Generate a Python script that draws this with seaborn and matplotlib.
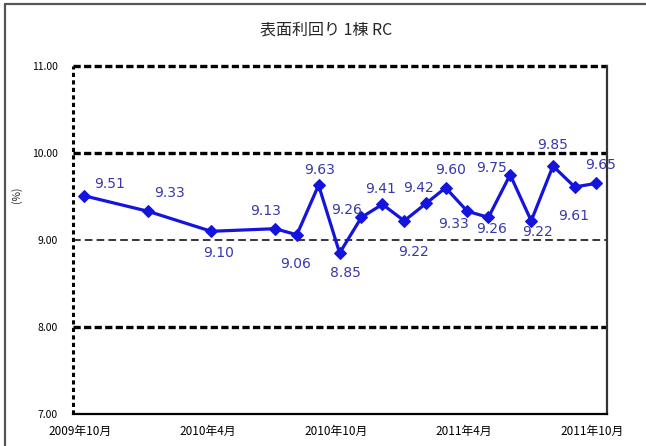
import pandas as pd
import matplotlib
matplotlib.use("Agg")
import matplotlib.pyplot as plt
import matplotlib.dates as mdates
import matplotlib.transforms as mtransforms
from matplotlib.lines import Line2D
import seaborn as sns

# --- data ---
months = ["2009-10", "2010-01", "2010-04", "2010-07", "2010-08", "2010-09",
          "2010-10", "2010-11", "2010-12", "2011-01", "2011-02", "2011-03",
          "2011-04", "2011-05", "2011-06", "2011-07", "2011-08", "2011-09",
          "2011-10"]
yields = [9.51, 9.33, 9.10, 9.13, 9.06, 9.63, 8.85, 9.26, 9.41, 9.22, 9.42,
          9.60, 9.33, 9.26, 9.75, 9.22, 9.85, 9.61, 9.65]
tick_months = ["2009-10-01", "2010-04-01", "2010-10-01", "2011-04-01", "2011-10-01"]
tick_labels = ["2009年10月", "2010年4月", "2010年10月", "2011年4月", "2011年10月"]
y_ticks = [7, 8, 9, 10, 11]
title = "表面利回り 1棟 RC"

# label offsets in pixels (dx, dy with dy downwards), placement only
label_offsets = [(26, -12), (21, -18), (7, 22), (-10, -18), (-1, 29), (1, -15),
                 (6, 20), (-15, -7), (-2, -15), (9, 31), (-7, -15), (5, -18),
                 (-14, 13), (3, 12), (-19, -7), (6, 11), (0, -21), (-1, 29),
                 (5, -18)]

df = pd.DataFrame({"date": pd.to_datetime([m + "-16" for m in months]),
                   "value": yields})

sns.set_theme(style="white")
plt.rcParams["font.family"] = ["Noto Sans CJK JP", "DejaVu Sans"]
plt.rcParams["lines.scale_dashes"] = False

fig = plt.figure(figsize=(6.46, 4.46), dpi=100)
ax = fig.add_axes([73 / 646, 1 - 414 / 446, (607 - 73) / 646, (414 - 66) / 446])

line_c = "#1414dc"
label_c = "#3838a8"

sns.lineplot(data=df, x="date", y="value", ax=ax, color=line_c, lw=2.3,
             marker="D", markersize=6.5, markeredgecolor=line_c, zorder=5)

# grid lines
for v in [8, 10, 11]:
    ax.axhline(v, color="black", lw=2.4, dashes=(5.2, 2.4), zorder=2, clip_on=False)
ax.axhline(9, color="black", lw=1.1, dashes=(5.5, 3.0), zorder=2)

x_start = pd.Timestamp("2009-10-01")
ax.set_ylim(7, 11)
ax.set_xlim(x_start, pd.Timestamp("2011-11-01"))
ax.set_yticks(y_ticks)
ax.set_yticklabels([f"{v:.2f}" for v in y_ticks])
ax.set_xticks(pd.to_datetime(tick_months))
ax.set_xticklabels(tick_labels)
ax.set_xlabel("")
ax.set_ylabel("(%)", fontsize=7.5)
ax.yaxis.set_label_coords((22 - 73) / 534, (414 - 195) / 348)

ax.tick_params(axis="y", length=0, pad=11, labelsize=7.5, labelcolor="black")
ax.tick_params(axis="x", direction="in", length=4, width=1, pad=8,
               labelsize=8.5, labelcolor="black", color="black")
shift = mtransforms.ScaledTranslation(7 / 100, 0, fig.dpi_scale_trans)
for lab in ax.get_xticklabels():
    lab.set_transform(lab.get_transform() + shift)

# left axis line is dashed in the reference
ax.spines["top"].set_visible(False)
ax.spines["left"].set_visible(False)
ax.axvline(x_start, color="black", lw=2.2, dashes=(3.0, 2.4), zorder=3, clip_on=False)
ax.spines["right"].set_color("#333333")
ax.spines["right"].set_linewidth(1.6)
ax.spines["bottom"].set_color("black")
ax.spines["bottom"].set_linewidth(1.6)

# data labels
for (d, v), (dx, dy) in zip(zip(df["date"], df["value"]), label_offsets):
    ax.annotate(f"{v:.2f}", (mdates.date2num(d), v), xytext=(dx, -dy),
                textcoords="offset pixels", ha="center", va="center",
                fontsize=10, color=label_c, family="DejaVu Sans", zorder=6)

fig.text(326 / 646, 1 - 30 / 446, title, ha="center", va="center", fontsize=11.5)

# outer frame of the original chart area (only top and left edges show)
fx, fy = 5 / 646, 1 - 4 / 446
fig.lines.append(Line2D([fx, 1], [fy, fy], transform=fig.transFigure,
                        color="#555555", lw=1.6))
fig.lines.append(Line2D([fx, fx], [0, fy], transform=fig.transFigure,
                        color="#555555", lw=1.6))

fig.savefig("out.png", dpi=100)
